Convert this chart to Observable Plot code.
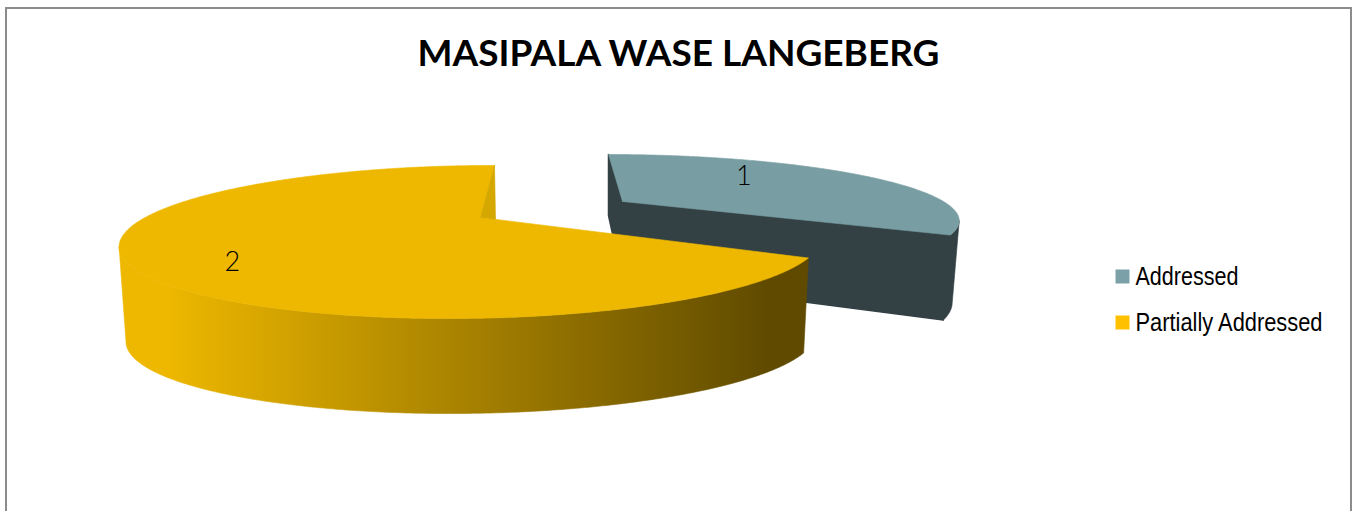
<!DOCTYPE html>
<html>
<head>
<meta charset="utf-8">
<script src="https://cdn.jsdelivr.net/npm/d3@7"></script>
<script src="https://cdn.jsdelivr.net/npm/@observablehq/plot@0.6"></script>
<style>
html,body{margin:0;padding:0;background:#fff;overflow:hidden;width:1355px;height:511px}
#frame{position:absolute;left:5px;top:7px;width:1343px;height:560px;border:2px solid #8c8c8c;box-sizing:content-box}
#chart{position:absolute;left:0;top:0}
svg{display:block}
</style>
</head>
<body>
<div id="frame"></div>
<div id="chart"></div>
<script>
const title = "MASIPALA WASE LANGEBERG";
const categories = ["Addressed", "Partially Addressed"];
const values = [1, 2];
const topColors = ["#789DA3", "#EEB800"];
const legendColors = ["#7BA0A8", "#FFC000"];
const wallColors = ["#334145", "#D4A800"];
const legendTextWidths = [103, 187];

const W = 1355, H = 511;
// Perspective of each exploded slice: disc (u,v) -> picture
const views = [
  {x0:622, y0:201, A:321, S:17.5, B:58.75, k:.25, m:0,   xc:608, sc:.98,  d0:77, d1:16},
  {x0:480, y0:217, A:332, S:-18.5, B:68.7, k:.32, m:.01, xc:527, sc:.983, d0:95, d1:0}
];
const labelRadius = [.654, .794];
const labelTurn = [-16.7 * Math.PI / 180, -12.55 * Math.PI / 180];

function project(view, u, v, bottom) {
  const w = 1 - view.k * v + view.m * u;
  let x = view.x0 + (view.A * u + view.S * v) / w;
  let y = view.y0 + view.B * v / w;
  if (bottom) { x = view.xc + (x - view.xc) * view.sc; y = y + view.d0 + view.d1 * v; }
  return {x, y};
}
const polar = (view, a, r, bottom) => project(view, r * Math.sin(a), -r * Math.cos(a), bottom);
function arc(view, a0, a1, bottom) {
  const n = Math.ceil(Math.abs(a1 - a0) / 0.01);
  return d3.range(n + 1).map(i => polar(view, a0 + (a1 - a0) * i / n, 1, bottom));
}
// The angle of the slice's silhouette: where its rim reaches furthest sideways
function silhouetteAngle(view, a0, a1, sign) {
  const angles = d3.range(a0, a1, 0.005);
  return angles[d3.maxIndex(angles, a => sign * polar(view, a, 1, false).x)];
}

const arcs = d3.pie().sort(null)(values);

const polygon = (pts, fill, strokeWidth = 0.6) => Plot.line(pts.concat(pts.slice(0, 1)), {
  x: "x", y: "y", fill, stroke: fill, strokeWidth, curve: "linear"
});

function sliceMarks(i, sideFill) {
  const view = views[i], {startAngle: a0, endAngle: a1} = arcs[i];
  const apexT = project(view, 0, 0, false), apexB = project(view, 0, 0, true);
  const marks = [];
  if (i === 0) {
    const ext = silhouetteAngle(view, a0, a1, 1);
    marks.push(polygon([polar(view,a0,1,false), apexT, apexB, polar(view,a0,1,true)], wallColors[0], 1.5));
    marks.push(polygon([polar(view,a1,1,false), apexT, apexB, polar(view,a1,1,true)], wallColors[0], 1.5));
    marks.push(polygon([...arc(view,ext,a1,false), ...arc(view,a1,ext,true)], sideFill));
  } else {
    const ext = silhouetteAngle(view, a0, a1, -1);
    marks.push(polygon([...arc(view,a0,ext,false), ...arc(view,ext,a0,true)], sideFill));
  }
  const face = [apexT, ...arc(view,a0,a1,false)];
  marks.push(polygon(face, topColors[i]));
  if (i === 1) {
    const outer = polar(view,a1,1,false), end = polar(view,a0,1,false);
    const t = (outer.x - apexT.x) / (end.x - apexT.x);
    const foot = {x: outer.x + 1, y: apexT.y + t * (end.y - apexT.y)};
    marks.push(polygon([outer, apexT, foot], wallColors[1]));
  }
  return marks;
}

const gradientDefs = () => {
  const defs = d3.create("svg:defs");
  const g = defs.append("linearGradient").attr("id", "side")
    .attr("gradientUnits", "userSpaceOnUse")
    .attr("x1", 165).attr("x2", 770).attr("y1", 0).attr("y2", 0);
  g.append("stop").attr("offset", 0).attr("stop-color", "#EEB800");
  g.append("stop").attr("offset", 1).attr("stop-color", "#5F4A00");
  return defs.node();
};

const labels = arcs.map((d, i) => {
  const mid = (d.startAngle + d.endAngle) / 2 + labelTurn[i];
  return {...polar(views[i], mid, labelRadius[i], false), text: String(values[i])};
});
const legend = categories.map((name, i) => ({name, color: legendColors[i], x: 1122, tx: 1135, y: 276 + i * 46}));

const plot = Plot.plot({
  width: W, height: H,
  margin: 0,
  x: {domain: [0, W], range: [0, W], axis: null},
  y: {domain: [0, H], range: [0, H], axis: null},
  style: {background: "transparent"},
  marks: [
    gradientDefs,
    ...sliceMarks(0, wallColors[0]),
    ...sliceMarks(1, "url(#side)"),
    Plot.text(labels, {x: "x", y: "y", text: "text", fontSize: 27, fontFamily: "Lato", fill: "#000", fontWeight: 300}),
    Plot.text([title], {x: () => 678, y: () => 54, text: d => d, fontSize: 37, fontWeight: 700, fontFamily: "Lato", fill: "#000"}),
    Plot.dot(legend, {x: "x", y: "y", r: 7.9, symbol: "square", fill: "color", stroke: "none"}),
    Plot.text(legend, {x: "tx", y: "y", text: "name", textAnchor: "start", fontSize: 25, fontFamily: "'Liberation Sans'", fill: "#000", className: "legend-text"})
  ]
});
// The reference's legend uses a condensed face: fit the real text to its width
d3.select(plot).selectAll(".legend-text text").each(function(d, j) {
  this.setAttribute("textLength", legendTextWidths[j]);
  this.setAttribute("lengthAdjust", "spacingAndGlyphs");
});
document.getElementById("chart").appendChild(plot);
</script>
</body>
</html>
